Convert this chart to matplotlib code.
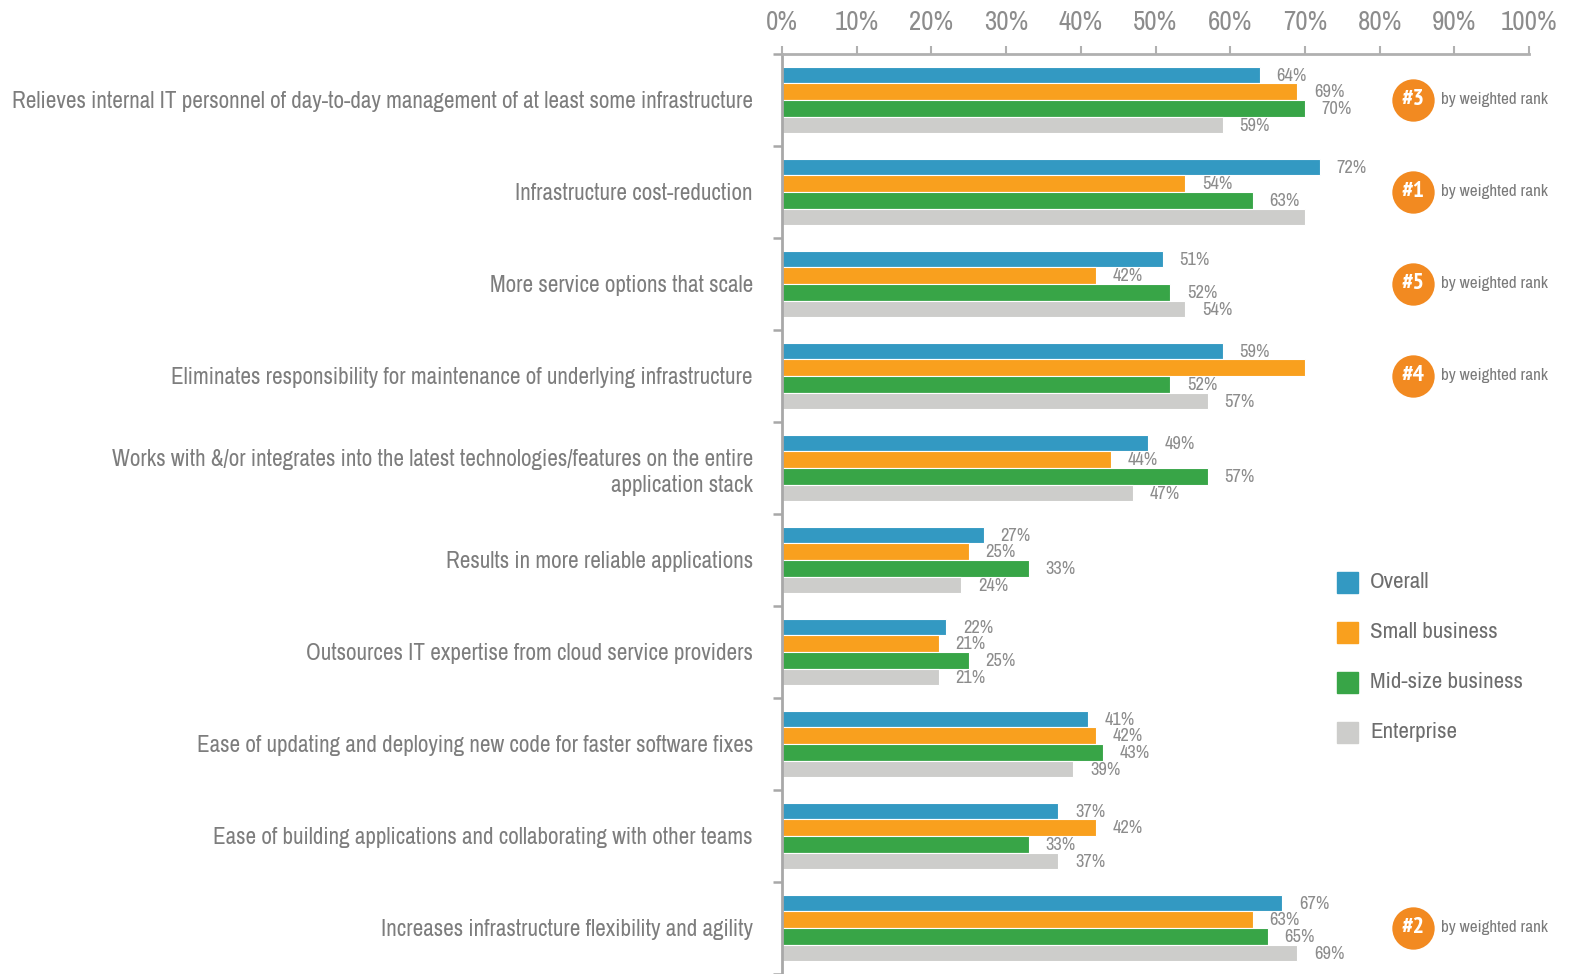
import matplotlib
matplotlib.use("Agg")
import matplotlib.pyplot as plt
from matplotlib import font_manager
from matplotlib.font_manager import FontProperties
from matplotlib.patches import Rectangle
import numpy as np

# ---------------- data ----------------
categories = [
    "Relieves internal IT personnel of day-to-day management of at least some infrastructure",
    "Infrastructure cost-reduction",
    "More service options that scale",
    "Eliminates responsibility for maintenance of underlying infrastructure",
    "Works with &/or integrates into the latest technologies/features on the entire\napplication stack",
    "Results in more reliable applications",
    "Outsources IT expertise from cloud service providers",
    "Ease of updating and deploying new code for faster software fixes",
    "Ease of building applications and collaborating with other teams",
    "Increases infrastructure flexibility and agility",
]
series_names = ["Overall", "Small business", "Mid-size business", "Enterprise"]
overall = [64, 72, 51, 59, 49, 27, 22, 41, 37, 67]
small_business = [69, 54, 42, 70, 44, 25, 21, 42, 42, 63]
midsize_business = [70, 63, 52, 52, 57, 33, 25, 43, 33, 65]
enterprise = [59, 70, 54, 57, 47, 24, 21, 39, 37, 69]
# bars that carry no value label in the original
unlabeled = [(1, 3), (3, 1)]  # (category index, series index)
rank_categories = [0, 1, 2, 3, 9]
rank_labels = ["#3", "#1", "#5", "#4", "#2"]
xtick_values = list(range(0, 101, 10))
xtick_labels = [f"{v}%" for v in xtick_values]

colors = ["#3399C2", "#F9A01E", "#38A547", "#CDCDCB"]
badge_color = "#F28A21"

# ---------------- fonts: pick the narrowest available ----------------
def is_narrow(f):
    name = f.name.lower()
    fn = f.fname.lower()
    return ("narrow" in name or "narrow" in fn or "condensed" in name
            or "condensed" in fn or (isinstance(f.stretch, str) and "condensed" in f.stretch))

def pick_font(bold=False):
    best = None
    for f in font_manager.fontManager.ttflist:
        fn = f.fname.lower()
        if f.style != "normal" or "oblique" in fn or "italic" in fn:
            continue
        if not is_narrow(f):
            continue
        isbold = ("bold" in fn) or (f.weight in ("bold", 700, "700"))
        if bold != isbold:
            continue
        key = 0 if ("narrow" in f.name.lower() or "narrow" in fn) else 1
        if "semicondensed" in fn or "semi" in str(f.stretch):
            key = 2
        if any(w in fn for w in ("light", "thin", "black", "medium", "extrabold", "semibold")):
            key += 0.5
        if best is None or key < best[0]:
            best = (key, f.fname)
    if best is None:
        return font_manager.findfont(FontProperties(family="DejaVu Sans",
                                                    weight="bold" if bold else "normal"))
    return best[1]

font_path = pick_font(False)
bold_path = pick_font(True)

def fp(size, bold=False):
    return FontProperties(fname=bold_path if bold else font_path, size=size)

W, H = 1571, 974
fig = plt.figure(figsize=(W / 100, H / 100), dpi=100)
renderer = fig.canvas.get_renderer()

def fit(text, target_px, max_size, bold=False):
    w, h, d = renderer.get_text_width_height_descent(text, fp(10, bold), ismath=False)
    s = 10 * target_px / w
    return min(s, max_size)

cat_size = fit(categories[0], 744, 21)
tick_size = fit("100%", 56, 21)
val_size = fit("64%", 30, 17)
rank_txt_size = fit("by weighted rank", 107, 16)
legend_size = fit("Mid-size business", 154, 22)
badge_size = fit("#3", 23, 19, bold=True)

ax = fig.add_axes([782 / W, 0, 747 / W, 920 / H])

series = [overall, small_business, midsize_business, enterprise]
n = len(categories)
bh = 0.18
ypos = np.arange(n)
for j, vals in enumerate(series):
    yy = ypos + (j - 1.5) * bh
    ax.barh(yy, vals, height=bh, color=colors[j], edgecolor="white",
            linewidth=0.8, label=series_names[j], zorder=2)
    for i, v in enumerate(vals):
        if (i, j) in unlabeled:
            continue
        ax.annotate(f"{v}%", xy=(v, yy[i]), xytext=(12, -0.5),
                    textcoords="offset points", va="center", ha="left",
                    fontproperties=fp(val_size), color="#8c8c8c")

ax.set_xlim(0, 100)
ax.set_ylim(n - 0.5, -0.5)

# x axis on top
ax.xaxis.tick_top()
ax.set_xticks(xtick_values)
ax.set_xticklabels(xtick_labels)
ax.tick_params(axis="x", which="major", direction="out", length=6, width=1.5,
               color="#b0b0b0", labelcolor="#8c8c8c", pad=8)
for lbl in ax.get_xticklabels():
    lbl.set_fontproperties(fp(tick_size))

# y axis: boundary ticks (major) and centered labels (minor)
ax.set_yticks(np.arange(-0.5, n, 1.0))
ax.set_yticklabels([])
ax.tick_params(axis="y", which="major", direction="out", length=6.5, width=1.8,
               color="#a8a8a8")
ax.set_yticks(ypos, minor=True)
ax.set_yticklabels(categories, minor=True, linespacing=1.3)
ax.tick_params(axis="y", which="minor", length=0, pad=21,
               labelcolor="#7d7d7d")
for lbl in ax.get_yticklabels(minor=True):
    lbl.set_horizontalalignment("right")
    lbl.set_fontproperties(fp(cat_size))

for s in ["right", "bottom"]:
    ax.spines[s].set_visible(False)
ax.spines["top"].set_color("#b0b0b0")
ax.spines["top"].set_linewidth(2)
ax.spines["left"].set_color("#a8a8a8")
ax.spines["left"].set_linewidth(2)

# rank badges
for ci, rl in zip(rank_categories, rank_labels):
    ax.scatter([84.5], [ci], s=930, color=badge_color, zorder=3, clip_on=False,
               linewidths=0)
    ax.text(84.5, ci, rl, ha="center", va="center", color="white",
            fontproperties=fp(badge_size, bold=True), zorder=4)
    ax.text(88.2, ci, "by weighted rank", ha="left", va="center",
            color="#7a7a7a", fontproperties=fp(rank_txt_size), zorder=4)

# legend (manual)
for j, name in enumerate(series_names):
    yc = 582 + j * 50
    fig.add_artist(Rectangle((1337 / W, 1 - (yc + 11) / H), 21 / W, 21 / H,
                             transform=fig.transFigure, color=colors[j]))
    fig.text(1370 / W, 1 - yc / H, name, ha="left", va="center",
             fontproperties=fp(legend_size), color="#6d6d6d")

fig.savefig("out.png", dpi=100)
